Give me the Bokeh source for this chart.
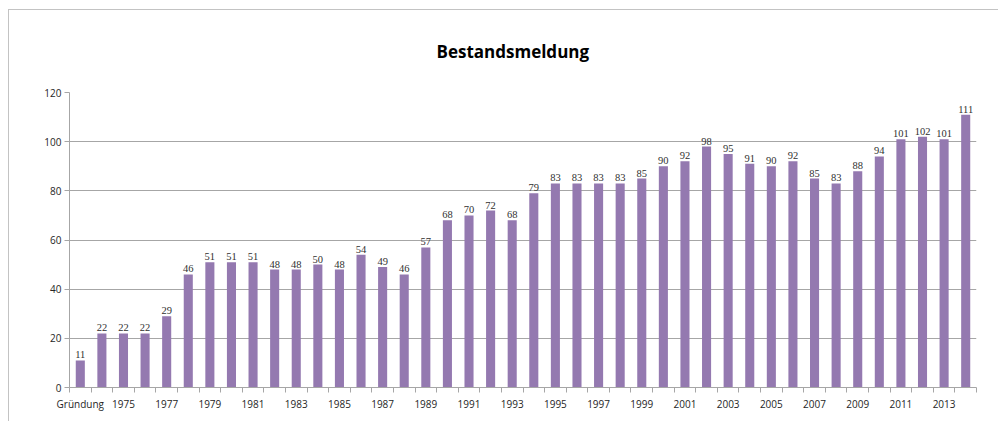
from bokeh.plotting import figure
from bokeh.models import ColumnDataSource, FixedTicker, Range1d, LabelSet
from bokeh.embed import file_html
from bokeh.resources import INLINE

categories = ["Gründung"] + [str(y) for y in range(1974, 2015)]
values = [11, 22, 22, 22, 29, 46, 51, 51, 51, 48, 48, 50, 48, 54, 49, 46, 57,
          68, 70, 72, 68, 79, 83, 83, 83, 83, 85, 90, 92, 98, 95, 91, 90, 92,
          85, 83, 88, 94, 101, 102, 101, 111]
title_text = "Bestandsmeldung"

n = len(categories)
xs = [i + 0.5 for i in range(n)]
source = ColumnDataSource(dict(x=xs, top=values, lab=[str(v) for v in values], cat=categories))

FONT = "Open Sans"
p = figure(width=990, height=412, output_backend="svg", toolbar_location=None,
           x_range=Range1d(0, n), y_range=Range1d(0, 120),
           min_border_left=60, min_border_right=23, min_border_top=82, min_border_bottom=35)
p.margin = (9, 0, 0, 8)
p.styles = {"border-left": "1px solid #c3c3c3", "border-top": "1px solid #c3c3c3"}

p.vbar(x="x", top="top", width=0.42, source=source, fill_color="#9479B0", line_color=None)

labels = LabelSet(x="x", y="top", text="lab", source=source, text_align="center",
                  text_baseline="bottom", y_offset=2, text_font=FONT,
                  text_font_size="10.5px", text_color="#303030")
p.add_layout(labels)

p.title.text = title_text
p.title.align = "left"
p.title.vertical_align = "top"
p.title.text_font = FONT
p.title.text_font_style = "bold"
p.title.text_font_size = "17px"
p.title.text_color = "#000000"
p.title.standoff = 56
p.title.offset = 367

# x axis
label_pos = [xs[i] for i in range(0, n, 2)]
p.xaxis.ticker = FixedTicker(ticks=label_pos, minor_ticks=list(range(0, n + 1)))
p.xaxis.major_label_overrides = {xs[i]: categories[i] for i in range(0, n, 2)}
p.xaxis.major_tick_line_color = None
p.xaxis.minor_tick_in = 0
p.xaxis.minor_tick_out = 5
p.xaxis.minor_tick_line_color = "#a6a6a6"
p.xaxis.axis_line_color = "#a6a6a6"
p.xaxis.major_label_text_font = FONT
p.xaxis.major_label_text_font_size = "10px"
p.xaxis.major_label_text_color = "#262626"
p.xaxis.major_label_standoff = 3

# y axis
p.yaxis.ticker = FixedTicker(ticks=[0, 20, 40, 60, 80, 100, 120])
p.yaxis.major_tick_in = 0
p.yaxis.major_tick_out = 5
p.yaxis.minor_tick_line_color = None
p.yaxis.major_tick_line_color = "#a6a6a6"
p.yaxis.axis_line_color = "#a6a6a6"
p.yaxis.major_label_text_font = FONT
p.yaxis.major_label_text_font_size = "10px"
p.yaxis.major_label_text_color = "#262626"
p.yaxis.major_label_standoff = 3

p.xgrid.grid_line_color = None
p.ygrid.grid_line_color = "#a6a6a6"
p.ygrid.ticker = FixedTicker(ticks=[20, 40, 60, 80, 100, 120])
p.outline_line_color = None

open("out.html", "w").write(file_html(p, INLINE))
